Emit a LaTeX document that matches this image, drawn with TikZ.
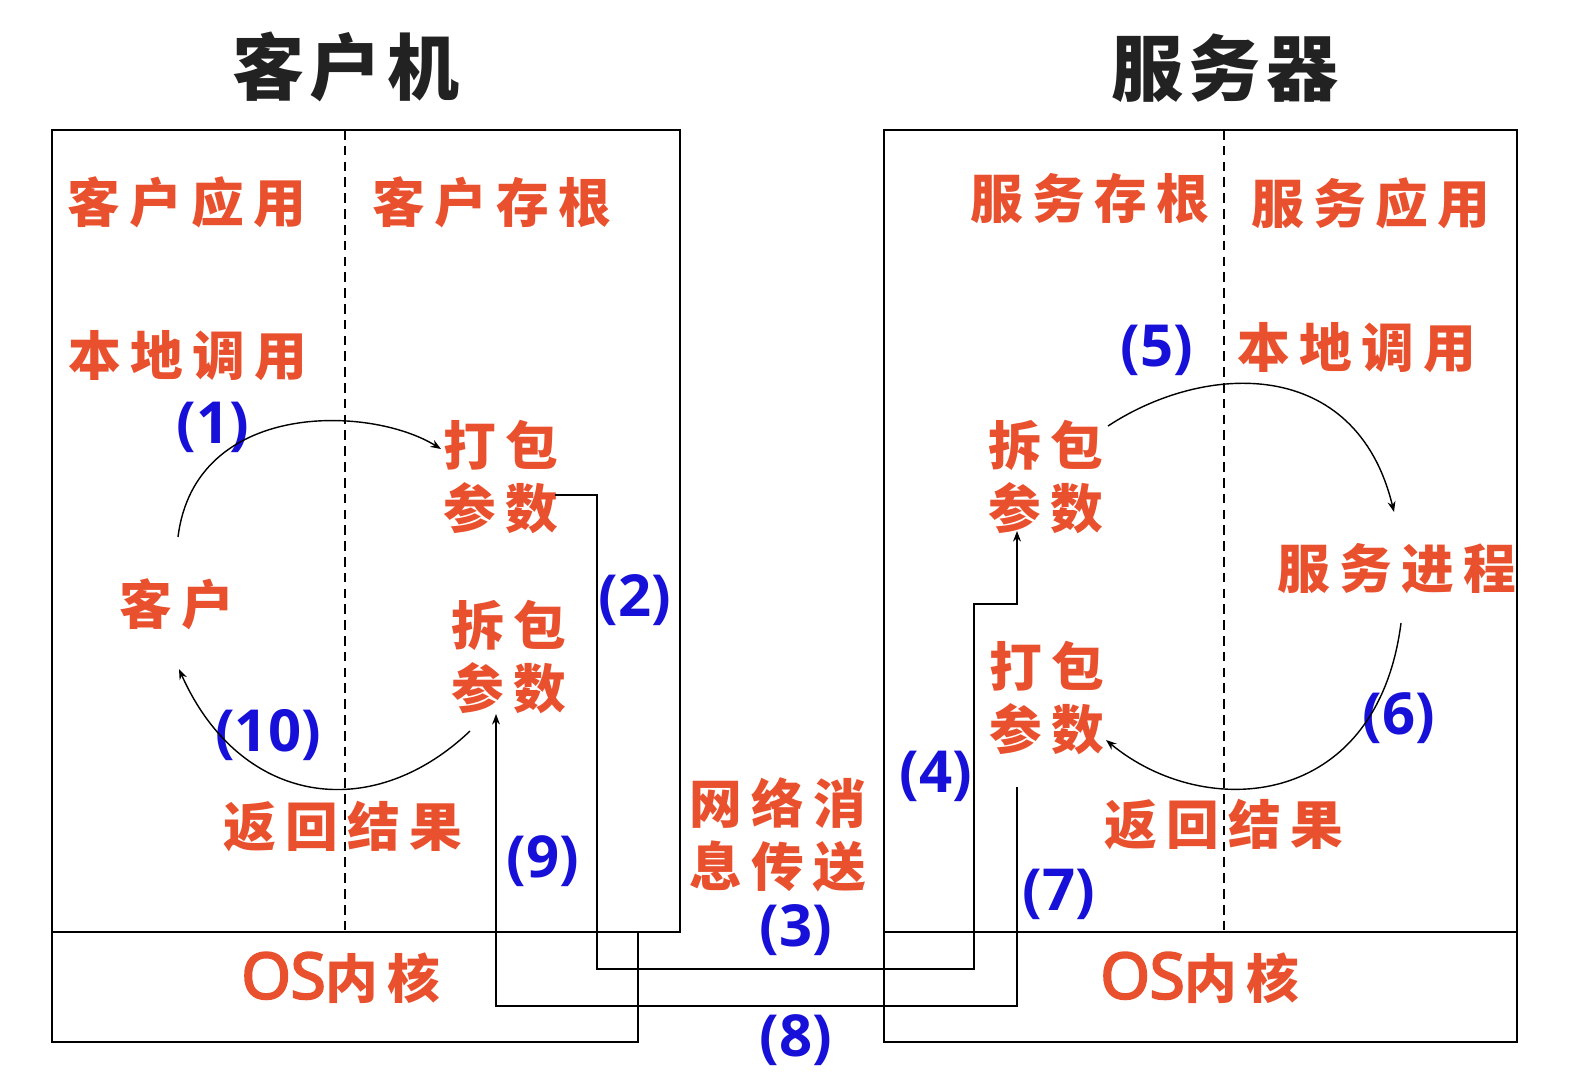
\documentclass[tikz,border=0pt]{standalone}
\usepackage{fontspec}
\usetikzlibrary{arrows.meta}
\newfontfamily\cjkfont[LetterSpace=18]{Noto Sans CJK SC}
\newfontfamily\titlefont[LetterSpace=8]{Noto Sans CJK SC}
\newfontfamily\numfont{Open Sans}
\newfontfamily\osfont[FakeBold=4]{Open Sans}
\definecolor{lblred}{HTML}{E9502D}
\definecolor{stepblue}{HTML}{1610D8}
\definecolor{titleblk}{HTML}{222222}
\tikzset{
  hostbox/.style = {draw=black, line width=1.1pt},
  divline/.style = {draw=black, line width=0.9pt, dash pattern=on 5.5pt off 3.5pt},
  lbl/.style     = {text=lblred, inner sep=0pt, align=center,
                    font=\cjkfont\bfseries\fontsize{30}{36}\selectfont},
  ttl/.style     = {text=titleblk, inner sep=0pt,
                    font=\titlefont\bfseries\fontsize{41}{48}\selectfont},
  num/.style     = {text=stepblue, inner sep=0pt,
                    font=\numfont\bfseries\fontsize{33}{36}\selectfont},
  conn/.style    = {draw=black, line width=0.8pt},
  arr/.style     = {conn, -{Stealth[length=6pt,width=4.5pt]}},
}
\newcommand{\osword}{{\osfont\mdseries\fontsize{36}{40}\selectfont OS}}

\begin{document}
\begin{tikzpicture}[x=0.02cm, y=-0.02cm]
  \useasboundingbox (0,0) rectangle (1594,1090);

  % hosts and kernels
  \draw[hostbox] (52,130) rectangle (680,932);
  \draw[hostbox] (52,932) rectangle (638,1042);
  \draw[hostbox] (884,130) rectangle (1517,932);
  \draw[hostbox] (884,932) rectangle (1517,1042);
  \draw[divline] (345,130) -- (345,932);
  \draw[divline] (1224,130) -- (1224,932);

  \node[ttl] (cltitle) at (346,67) {客户机};
  \node[ttl] (svtitle) at (1225,68) {服务器};

  % client side
  \node[lbl] (capp)   at (187,202) {客户应用};
  \node[lbl] (cstub)  at (492,202) {客户存根};
  \node[lbl] (ccall)  at (188,356) {本地调用};
  \node[lbl] (cpack)  at (501,477) {打包\\参数};
  \node[lbl] (client) at (177,604) {客户};
  \node[lbl] (cunpk)  at (509,657) {拆包\\参数};
  \node[lbl] (cret)   at (343,827) {返回结果};
  \node[lbl] (cos)    at (341,978) {\osword 内核};

  % server side
  \node[lbl] (sstub)  at (1090,199) {服务存根};
  \node[lbl] (sapp)   at (1371,203) {服务应用};
  \node[lbl] (scall)  at (1357,348) {本地调用};
  \node[lbl] (sunpk)  at (1046,477) {拆包\\参数};
  \node[lbl] (sproc)  at (1397,569) {服务进程};
  \node[lbl] (spack)  at (1047,698) {打包\\参数};
  \node[lbl] (sret)   at (1224,825) {返回结果};
  \node[lbl] (sos)    at (1200,978) {\osword 内核};

  \node[lbl] (net) at (778,835) {网络消\\息传送};

  % step numbers
  \node[num] (s1)  at (213,427)  {(1)};
  \node[num] (s2)  at (635,600)  {(2)};
  \node[num] (s3)  at (796,930)  {(3)};
  \node[num] (s4)  at (936,776)  {(4)};
  \node[num] (s5)  at (1157,350) {(5)};
  \node[num] (s6)  at (1399,718) {(6)};
  \node[num] (s7)  at (1059,894) {(7)};
  \node[num] (s8)  at (796,1040) {(8)};
  \node[num] (s9)  at (543,861)  {(9)};
  \node[num] (s10) at (268,735)  {(10)};

  % connector ends
  \coordinate (clitop)  at (178,537);
  \coordinate (cpackin) at (441,449);
  \coordinate (cpackout) at (555,495);
  \coordinate (netlo)   at (974,969);
  \coordinate (sunpkin) at (1017,531);
  \coordinate (sunpkout) at (1108,426);
  \coordinate (sprocin) at (1394,512);
  \coordinate (sprocout) at (1401,623);
  \coordinate (spackin) at (1106,740);
  \coordinate (spackout) at (1017,787);
  \coordinate (cunpkin) at (496,714);
  \coordinate (cunpkout) at (470,731);
  \coordinate (clibot)  at (179,669);

  \draw[arr] (clitop) .. controls +(17,-137) and +(-71,-44) .. (cpackin);
  \draw[arr] (cpackout) -- ++(42,0) |- (netlo) -- ++(0,-365) -| (sunpkin);
  \draw[arr] (sunpkout) .. controls +(97,-64) and +(-38,-156) .. (sprocin);
  \draw[arr] (sprocout) .. controls +(-24,187) and +(99,82) .. (spackin);
  \draw[arr] (spackout) -- ++(0,219) -| (cunpkin);
  \draw[arr] (cunpkout) .. controls +(-100,95) and +(60,135) .. (clibot);
\end{tikzpicture}
\end{document}
